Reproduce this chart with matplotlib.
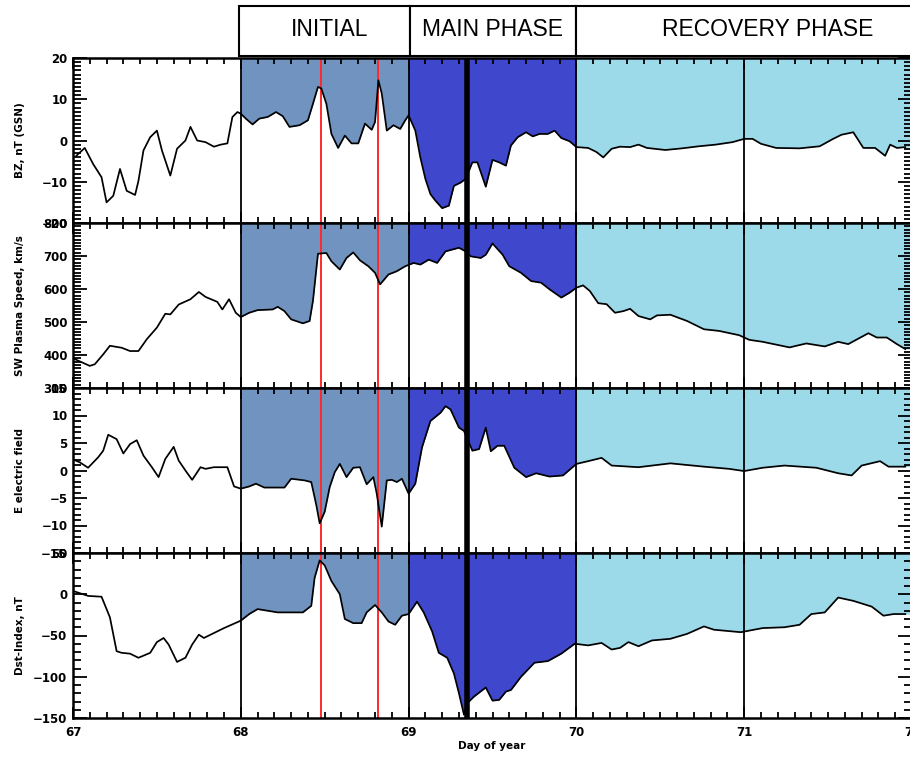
import numpy as np
import matplotlib
matplotlib.use('Agg')
import matplotlib.pyplot as plt
from matplotlib.patches import Rectangle
from matplotlib.ticker import MultipleLocator

# ----- Datos (dia del año) -----
dia_bz = [67.02, 67.07, 67.12, 67.17, 67.20, 67.24, 67.28, 67.32, 67.37, 67.39, 67.42, 67.46, 67.50, 67.53,
          67.58, 67.62, 67.67, 67.70, 67.74, 67.79, 67.84, 67.88, 67.92, 67.95, 67.98, 68.00, 68.03, 68.07,
          68.11, 68.16, 68.21, 68.25, 68.29, 68.35, 68.40, 68.43, 68.46, 68.48, 68.51, 68.54, 68.58, 68.62,
          68.66, 68.70, 68.74, 68.78, 68.80, 68.82, 68.84, 68.87, 68.91, 68.95, 68.98, 69.00, 69.04, 69.07,
          69.10, 69.13, 69.16, 69.20, 69.24, 69.27, 69.31, 69.34, 69.38, 69.41, 69.46, 69.50, 69.54, 69.58,
          69.61, 69.65, 69.70, 69.74, 69.78, 69.83, 69.87, 69.91, 69.96, 70.00, 70.07, 70.12, 70.16, 70.21,
          70.26, 70.32, 70.37, 70.42, 70.53, 70.63, 70.73, 70.83, 70.93, 71.00, 71.05, 71.10, 71.19, 71.33,
          71.45, 71.53, 71.58, 71.65, 71.71, 71.78, 71.84, 71.87, 71.91, 71.96]
bz = [-3.7, -1.8, -5.7, -8.9, -15.0, -13.4, -6.9, -12.2, -13.2, -9.8, -2.4, 0.8, 2.4, -2.4,
      -8.5, -2.0, 0.0, 3.3, 0.0, -0.4, -1.5, -1.0, -0.7, 5.7, 6.9, 6.5, 5.3, 3.9,
      5.3, 5.7, 6.9, 5.9, 3.3, 3.7, 4.9, 8.9, 13.0, 12.6, 8.9, 1.6, -1.8, 1.2,
      -0.7, -0.7, 4.1, 2.6, 4.5, 14.6, 11.4, 2.4, 3.7, 2.8, 4.9, 6.1, 2.4, -4.1,
      -9.3, -13.0, -14.6, -16.4, -15.8, -11.0, -10.2, -9.3, -5.3, -5.3, -11.2, -4.7, -5.3, -6.1,
      -1.2, 0.8, 2.0, 1.0, 1.6, 1.6, 2.4, 0.6, -0.2, -1.6, -1.8, -2.8, -4.1, -2.0,
      -1.5, -1.6, -1.0, -1.8, -2.3, -1.9, -1.4, -1.0, -0.4, 0.4, 0.4, -0.8, -1.8, -1.9,
      -1.4, 0.4, 1.4, 2.0, -1.8, -1.8, -3.7, -1.0, -1.8, -1.6]

dia_v = [67.00, 67.10, 67.13, 67.18, 67.22, 67.29, 67.34, 67.39, 67.44, 67.50, 67.55, 67.58, 67.63, 67.70,
         67.75, 67.79, 67.86, 67.89, 67.93, 67.97, 68.00, 68.05, 68.10, 68.19, 68.22, 68.26, 68.30, 68.37,
         68.41, 68.43, 68.46, 68.51, 68.54, 68.59, 68.63, 68.67, 68.71, 68.76, 68.80, 68.83, 68.88, 68.93,
         68.98, 69.03, 69.07, 69.12, 69.17, 69.22, 69.30, 69.34, 69.37, 69.43, 69.46, 69.50, 69.56, 69.60,
         69.67, 69.73, 69.79, 69.84, 69.91, 69.96, 70.00, 70.04, 70.08, 70.13, 70.18, 70.23, 70.28, 70.32,
         70.37, 70.44, 70.48, 70.56, 70.66, 70.76, 70.85, 70.97, 71.03, 71.11, 71.27, 71.37, 71.48, 71.56,
         71.62, 71.74, 71.79, 71.85, 71.91, 71.96]
vel = [390, 367, 372, 402, 428, 422, 412, 412, 448, 483, 525, 523, 553, 569,
       591, 576, 561, 538, 569, 528, 515, 528, 536, 538, 546, 533, 508, 496,
       503, 564, 707, 709, 684, 659, 694, 711, 687, 669, 649, 614, 644, 654,
       669, 679, 674, 689, 679, 714, 725, 714, 699, 694, 704, 738, 704, 669,
       649, 624, 619, 599, 574, 589, 604, 611, 594, 557, 554, 528, 533, 540,
       518, 508, 520, 522, 503, 478, 473, 460, 446, 440, 423, 435, 426, 440,
       433, 466, 453, 453, 433, 418]

dia_e = [67.00, 67.04, 67.09, 67.15, 67.18, 67.21, 67.26, 67.30, 67.34, 67.38, 67.42, 67.47, 67.51, 67.55,
         67.60, 67.63, 67.67, 67.71, 67.76, 67.79, 67.84, 67.92, 67.96, 68.00, 68.05, 68.09, 68.14, 68.26,
         68.30, 68.38, 68.42, 68.45, 68.47, 68.50, 68.53, 68.56, 68.59, 68.63, 68.67, 68.71, 68.75, 68.79,
         68.81, 68.84, 68.87, 68.90, 68.93, 68.96, 69.00, 69.04, 69.08, 69.13, 69.19, 69.22, 69.25, 69.30,
         69.33, 69.38, 69.42, 69.46, 69.49, 69.53, 69.57, 69.63, 69.70, 69.76, 69.84, 69.92, 70.00, 70.07,
         70.15, 70.21, 70.37, 70.56, 70.76, 70.91, 71.00, 71.11, 71.24, 71.43, 71.56, 71.64, 71.70, 71.81,
         71.86, 71.96]
efield = [2.0, 1.5, 0.5, 2.4, 3.6, 6.5, 5.7, 3.1, 4.8, 5.5, 2.7, 0.6, -1.2, 2.1,
          4.3, 1.8, 0.0, -1.7, 0.6, 0.3, 0.6, 0.6, -2.9, -3.3, -2.9, -2.4, -3.1, -3.1,
          -1.5, -1.8, -2.1, -6.3, -9.6, -7.5, -3.0, -0.3, 1.2, -1.2, 0.5, 0.6, -2.5, -1.2,
          -4.2, -10.2, -1.8, -1.7, -2.1, -1.5, -4.2, -2.4, 4.2, 9.0, 10.5, 11.7, 11.1, 7.8,
          7.2, 3.6, 3.9, 7.8, 3.5, 4.5, 4.5, 0.5, -1.2, -0.5, -1.1, -0.9, 1.2, 1.7,
          2.3, 0.9, 0.6, 1.3, 0.7, 0.3, -0.1, 0.5, 0.9, 0.5, -0.5, -0.9, 0.9, 1.7,
          0.7, 0.7]

dia_dst = [67.00, 67.09, 67.17, 67.22, 67.26, 67.29, 67.34, 67.39, 67.46, 67.50, 67.54, 67.57, 67.62, 67.67,
           67.71, 67.75, 67.78, 67.82, 67.90, 68.00, 68.05, 68.10, 68.16, 68.22, 68.29, 68.37, 68.42, 68.44,
           68.47, 68.50, 68.54, 68.59, 68.62, 68.67, 68.72, 68.75, 68.80, 68.84, 68.88, 68.92, 68.96, 69.00,
           69.05, 69.09, 69.14, 69.18, 69.23, 69.27, 69.30, 69.33, 69.35, 69.39, 69.46, 69.50, 69.54, 69.58,
           69.61, 69.67, 69.75, 69.83, 69.91, 69.99, 70.07, 70.15, 70.21, 70.26, 70.31, 70.37, 70.45, 70.56,
           70.66, 70.76, 70.82, 70.98, 71.11, 71.24, 71.33, 71.40, 71.48, 71.56, 71.65, 71.76, 71.83, 71.89,
           71.96]
dst = [4, -2, -3, -28, -69, -71, -72, -77, -71, -58, -53, -61, -82, -77,
       -61, -49, -53, -49, -41, -32, -24, -18, -20, -22, -22, -22, -14, 20,
       41, 35, 16, 0, -30, -35, -35, -22, -13, -22, -33, -37, -26, -24,
       -9, -22, -45, -71, -77, -96, -120, -146, -132, -124, -113, -129, -128, -118,
       -116, -100, -83, -81, -72, -60, -62, -59, -67, -65, -58, -63, -56, -54,
       -48, -39, -43, -46, -41, -40, -37, -24, -22, -4, -8, -15, -26, -24,
       -24]

etiquetas = ["BZ, nT (GSN)", "SW Plasma Speed, km/s", "E electric field", "Dst-Index, nT"]
limites = [(-20, 20), (300, 800), (-15, 15), (-150, 50)]
mayores = [10, 100, 5, 50]
menores = [1, 10, 1, 10]

# fases de la tormenta
fases = [(68, 69, '#7193c0'), (69, 70, '#3f47cd'), (70, 72, '#9cdaea')]
nombres_fase = ["INITIAL", "MAIN PHASE", "RECOVERY PHASE"]
lineas_negras = [68, 69, 70, 71]
linea_gruesa = 69.35
lineas_rojas = [68.475, 68.82]

fig = plt.figure(figsize=(9.1, 7.57), dpi=100)
W, H = 910., 757.
x0, x1 = 73 / W, 912 / W
y_top, y_bot = 1 - 58 / H, 1 - 718 / H
alto = (y_top - y_bot) / 4

datos = [(dia_bz, bz), (dia_v, vel), (dia_e, efield), (dia_dst, dst)]
fuente_ticks = dict(family='DejaVu Sans', weight='bold', size=8.5)

for i in range(4):
    ax = fig.add_axes([x0, y_top - (i + 1) * alto, x1 - x0, alto])
    x = np.asarray(datos[i][0]); y = np.asarray(datos[i][1])
    ymin, ymax = limites[i]
    # relleno sobre la curva para cada fase
    for a, b, c in fases:
        m = (x > a) & (x < b)
        xs = np.concatenate([[a], x[m], [b]])
        ys = np.concatenate([[np.interp(a, x, y)], y[m], [np.interp(b, x, y)]])
        ax.fill_between(xs, ys, ymax, color=c, lw=0)
    for xv in lineas_negras:
        ax.axvline(xv, color='k', lw=1.3)
    for xv in lineas_rojas:
        ax.axvline(xv, color='#ff2a2a', lw=1.4)
    ax.axvline(linea_gruesa, color='k', lw=4)
    ax.plot(x, y, color='k', lw=1.25)
    ax.set_xlim(67, 72)
    ax.set_ylim(ymin, ymax)
    ax.yaxis.set_major_locator(MultipleLocator(mayores[i]))
    ax.yaxis.set_minor_locator(MultipleLocator(menores[i]))
    ax.xaxis.set_major_locator(MultipleLocator(1))
    ax.xaxis.set_minor_locator(MultipleLocator(0.1))
    ax.tick_params(which='both', direction='in', top=True, right=True, width=1.3, colors='k')
    ax.tick_params(axis='y', which='major', length=10, pad=4)
    ax.tick_params(axis='y', which='minor', length=6)
    ax.tick_params(axis='x', which='major', length=8, pad=6)
    ax.tick_params(axis='x', which='minor', length=4)
    for s in ax.spines.values():
        s.set_linewidth(1.8)
    for lab in ax.get_yticklabels():
        lab.set(**fuente_ticks)
    if i < 3:
        ax.tick_params(axis='x', labelbottom=False)
    else:
        ax.set_xticks([67, 68, 69, 70, 71, 72])
        for lab in ax.get_xticklabels():
            lab.set(**fuente_ticks)
    ax.set_ylabel(etiquetas[i], family='DejaVu Sans', weight='bold', fontsize=7.5)
    ax.yaxis.set_label_coords(-0.057, 0.5)

fig.text(492 / W, 1 - 746 / H, "Day of year", family='DejaVu Sans', weight='bold',
         fontsize=7.5, ha='center', va='center')

# cajas de las fases arriba
cajas = [(239, 410), (410, 576), (576, 960)]
centros = [330, 493, 768]
for (a, b), nombre, cx in zip(cajas, nombres_fase, centros):
    r = Rectangle((a / W, 1 - 56 / H), (b - a) / W, 50 / H, transform=fig.transFigure,
                  fill=True, facecolor='white', edgecolor='k', lw=1.5, clip_on=False)
    fig.add_artist(r)
    fig.text(cx / W, 1 - 30 / H, nombre, family='Liberation Sans', fontsize=16.5,
             ha='center', va='center')

fig.savefig('out.png', dpi=100)
